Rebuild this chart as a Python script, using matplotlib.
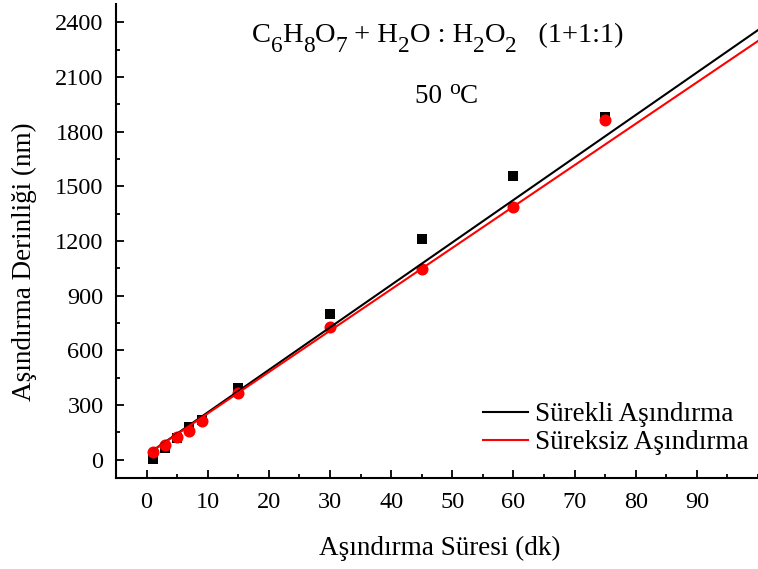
import matplotlib
matplotlib.use("Agg")
import matplotlib.pyplot as plt
import numpy as np
from matplotlib.ticker import MultipleLocator

plt.rcParams['font.family'] = ['Liberation Serif', 'DejaVu Serif']

time_min = [1, 3, 5, 7, 9, 15, 30, 45, 60, 75]
surekli = [5, 65, 120, 180, 220, 395, 800, 1210, 1555, 1880]
sureksiz = [40, 80, 125, 160, 210, 368, 730, 1047, 1386, 1862]
# linear fit lines (slope, intercept)
surekli_fit = (23.3, 27)
sureksiz_fit = (22.7, 27)
fit_range = [1, 100]
xticks = list(range(0, 100, 10))
yticks = list(range(0, 2401, 300))

W, H = 758, 569
fig = plt.figure(figsize=(W/100, H/100), dpi=100)
ax = fig.add_axes([116/W, 1-478/H, 1-116/W, (478-4)/H])

ax.scatter(time_min, surekli, marker='s', s=55, color='black', zorder=2, linewidths=0)
ax.scatter(time_min, sureksiz, marker='o', s=75, color='#ff0000', zorder=3, linewidths=0)

xf = np.array(fit_range, dtype=float)
ax.plot(xf, surekli_fit[0]*xf + surekli_fit[1], color='black', lw=1.5, zorder=4, label='Sürekli Aşındırma')
ax.plot(xf, sureksiz_fit[0]*xf + sureksiz_fit[1], color='#ff0000', lw=1.5, zorder=4, label='Süreksiz Aşındırma')

ax.set_xlim(-5, 100)
ax.set_ylim(-100, 2500)
ax.set_xticks(xticks)
ax.set_yticks(yticks)
ax.xaxis.set_minor_locator(MultipleLocator(5))
ax.yaxis.set_minor_locator(MultipleLocator(150))
ax.tick_params(which='major', direction='in', length=6, width=1.3, labelsize=17.5)
ax.tick_params(which='minor', direction='in', length=3, width=1.3)
ax.tick_params(axis='x', pad=10)
ax.tick_params(axis='y', pad=9)
ax.spines['top'].set_visible(False)
ax.spines['right'].set_visible(False)
for s in ['left', 'bottom']:
    ax.spines[s].set_linewidth(1.5)

fig.text(440/W, 1-548/H, 'Aşındırma Süresi (dk)', fontsize=19.5, ha='center', va='center')
fig.text(24/W, 1-262/H, 'Aşındırma Derinliği (nm)', fontsize=19.5, ha='center', va='center', rotation=90)

# chemical formula with large, low subscripts
FS = 20.5
SS = FS * 0.82
pieces = [('C', 0), ('6', -1), ('H', 0), ('8', -1), ('O', 0), ('7', -1), (' + H', 0), ('2', -1),
          ('O : H', 0), ('2', -1), ('O', 0), ('2', -1), ('   (1+1:1)', 0)]

def chain(pieces, x0, y0, fs=FS, ss=SS):
    base = fig.text(x0/W, 1-y0/H, pieces[0][0], fontsize=fs, ha='left', va='baseline')
    prev = base
    for txt, kind in pieces[1:]:
        if kind == 0:
            prev = ax.annotate(txt, xy=(1, 0), xycoords=(prev, base), ha='left', va='bottom',
                               fontsize=fs, annotation_clip=False)
        elif kind == -1:
            prev = ax.annotate(txt, xy=(1, 0), xycoords=(prev, base), xytext=(0, -6.5),
                               textcoords='offset points', ha='left', va='bottom', fontsize=ss,
                               annotation_clip=False)
        else:
            prev = ax.annotate(txt, xy=(1, 0), xycoords=(prev, base), xytext=(0, 7.5),
                               textcoords='offset points', ha='left', va='bottom', fontsize=ss,
                               annotation_clip=False)

chain(pieces, 252, 42)
chain([('50 ', 0), ('o', 1), ('C', 0)], 415, 103, fs=19.5, ss=19.5*0.8)

leg = ax.legend(loc='upper left', bbox_to_anchor=(483/W, 1-402/H), bbox_transform=fig.transFigure,
                frameon=False, fontsize=19.5, handlelength=1.67, handletextpad=0.26,
                labelspacing=0.12, borderpad=0, borderaxespad=0)

fig.savefig('out.png', dpi=100)
